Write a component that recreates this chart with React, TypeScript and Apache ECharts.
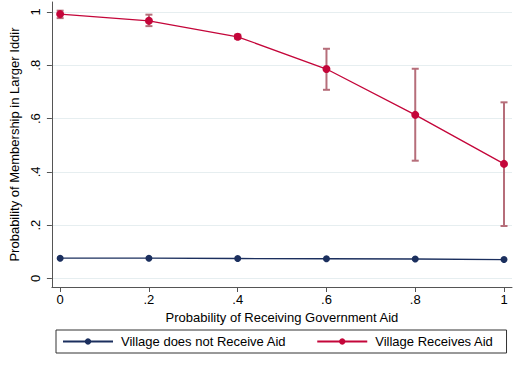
import React, { useEffect, useRef } from "react";
import * as echarts from "echarts";

const xValues = [0, 0.2, 0.4, 0.6, 0.8, 1];
const noAidValues = [0.076, 0.076, 0.075, 0.074, 0.073, 0.071];
const aidValues = [0.992, 0.967, 0.907, 0.786, 0.614, 0.43];
const aidLow = [0.977, 0.947, 0.9, 0.708, 0.442, 0.197];
const aidHigh = [1.005, 0.99, 0.915, 0.862, 0.787, 0.661];
const xTicks = [0, 0.2, 0.4, 0.6, 0.8, 1];
const yTicks = [0, 0.2, 0.4, 0.6, 0.8, 1];

const seriesNames = ["Village does not Receive Aid", "Village Receives Aid"];
const RED = "#c4063a";
const BLUE = "#1b2f5e";
const FONT = "Liberation Sans, Arial, sans-serif";

const fmt = (v: number) => {
  if (v === 0) return "0";
  if (v === 1) return "1";
  return String(+v.toFixed(2)).replace(/^0/, "");
};

export default function App() {
  const ref = useRef<HTMLDivElement>(null);
  useEffect(() => {
    if (!ref.current) return;
    const chart = echarts.init(ref.current, null, { renderer: "svg" });
    const axisColor = "#555";
    chart.setOption({
      animation: false,
      backgroundColor: "#fff",
      textStyle: { fontFamily: FONT },
      grid: { left: 50, right: 4, top: 2, bottom: 84, containLabel: false },
      xAxis: {
        type: "value",
        min: -0.0186,
        max: 1.018,
        name: "Probability of Receiving Government Aid",
        nameLocation: "middle",
        nameGap: 20,
        nameTextStyle: { fontSize: 13, color: "#000", fontFamily: FONT },
        axisLine: { show: true, onZero: false, lineStyle: { color: axisColor, width: 1 } },
        axisTick: { show: true, length: 5, customValues: xTicks, lineStyle: { color: axisColor } },
        axisLabel: {
          customValues: xTicks,
          formatter: (v: number) => fmt(v),
          fontSize: 13,
          color: "#000",
          margin: 6,
          fontFamily: FONT,
        },
        splitLine: { show: false },
      },
      yAxis: {
        type: "value",
        min: -0.032,
        max: 1.0375,
        name: "Probability of Membership in Larger Iddir",
        nameLocation: "middle",
        nameGap: 21,
        nameRotate: 90,
        nameTextStyle: { fontSize: 13, color: "#000", fontFamily: FONT },
        axisLine: { show: true, onZero: false, lineStyle: { color: axisColor, width: 1 } },
        axisTick: { show: true, length: 5, customValues: yTicks, lineStyle: { color: axisColor } },
        axisLabel: {
          customValues: yTicks,
          formatter: (v: number) => fmt(v),
          rotate: 90,
          fontSize: 13,
          color: "#000",
          margin: 10,
          fontFamily: FONT,
        },
        splitLine: { show: true, lineStyle: { color: "#e6eef0", width: 1 } },
      },
      legend: {
        data: seriesNames,
        left: 56,
        top: 330,
        orient: "horizontal",
        itemWidth: 50,
        itemHeight: 8,
        itemGap: 30,
        padding: [5, 13, 5, 6],
        borderColor: "#333",
        borderWidth: 1,
        textStyle: { fontSize: 13, color: "#000", fontFamily: FONT, padding: [0, 0, 0, 3] },
      },
      series: [
        {
          name: "aidCI",
          type: "custom",
          z: 1,
          data: xValues.map((x, i) => [x, aidLow[i], aidHigh[i]]),
          encode: { x: 0, y: [1, 2] },
          renderItem: (params: any, api: any) => {
            const x = api.value(0);
            const hi = api.coord([x, api.value(2)]);
            const lo = api.coord([x, api.value(1)]);
            const w = 3.5;
            const style = { stroke: "#b66e7a", lineWidth: 2 };
            return {
              type: "group",
              children: [
                { type: "line", shape: { x1: hi[0], y1: hi[1], x2: lo[0], y2: lo[1] }, style },
                { type: "line", shape: { x1: hi[0] - w, y1: hi[1], x2: hi[0] + w, y2: hi[1] }, style },
                { type: "line", shape: { x1: lo[0] - w, y1: lo[1], x2: lo[0] + w, y2: lo[1] }, style },
              ],
            };
          },
        },
        {
          name: seriesNames[0],
          type: "line",
          z: 3,
          data: xValues.map((x, i) => [x, noAidValues[i]]),
          symbol: "circle",
          symbolSize: 7,
          color: BLUE,
          lineStyle: { color: BLUE, width: 1.3 },
          itemStyle: { color: BLUE },
        },
        {
          name: seriesNames[1],
          type: "line",
          z: 3,
          data: xValues.map((x, i) => [x, aidValues[i]]),
          symbol: "circle",
          symbolSize: 8,
          color: RED,
          lineStyle: { color: RED, width: 1.3 },
          itemStyle: { color: RED },
        },
      ],
    });
    return () => chart.dispose();
  }, []);
  return (
    <div
      ref={ref}
      style={{ position: "fixed", left: 0, top: 0, width: 516, height: 371 }}
    />
  );
}
